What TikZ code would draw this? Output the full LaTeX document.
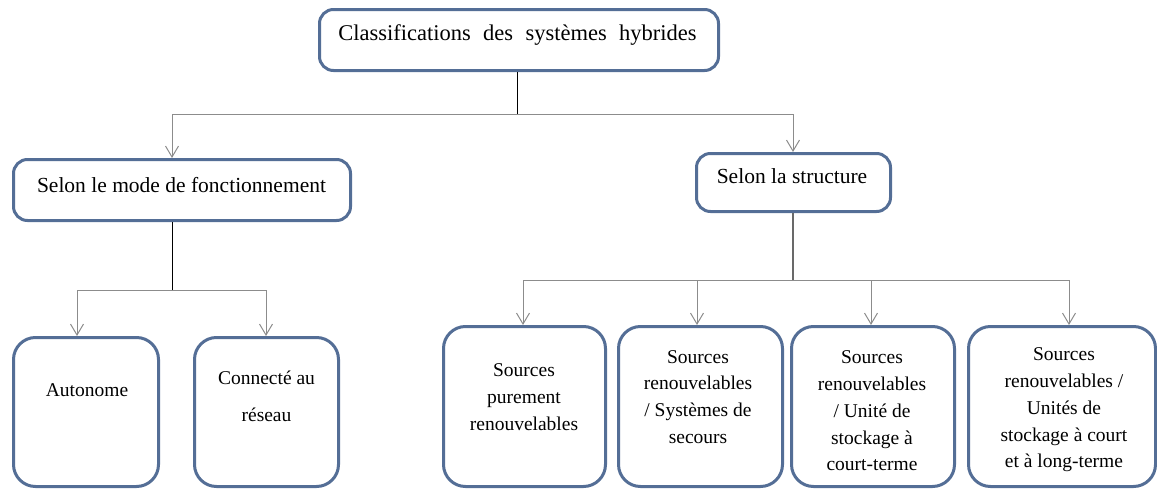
\documentclass[tikz,border=0pt]{standalone}
\usepackage{fontspec}
\setmainfont{Liberation Serif}
\usetikzlibrary{arrows.meta,calc}
\definecolor{boxline}{RGB}{84,110,150}
\definecolor{linkgray}{RGB}{140,140,140}
\definecolor{stemgray}{RGB}{105,105,105}
\begin{document}
\begin{tikzpicture}[x=1pt,y=-1pt,
  box/.style={draw=boxline, line width=3pt, rounded corners=14pt, fill=white, inner sep=0pt},
  leafbox/.style={box, rounded corners=22pt, minimum height=160pt},
  label/.style={align=center, inner sep=0pt, text=black},
  headfont/.style={font=\fontsize{22.5}{27}\selectfont},
  midfont/.style={font=\fontsize{21.5}{26}\selectfont},
  leaffont/.style={font=\fontsize{19.5}{26.8}\selectfont},
  link/.style={draw=linkgray, line width=1pt},
  arrowlink/.style={link, -{Straight Barb[length=11pt,width=13pt,line width=1pt]}},
  stem/.style={draw=black, line width=1pt}]
\useasboundingbox (0,0) rectangle (1157,490);

% boxes
\node[box, minimum width=399pt, minimum height=61pt] (top) at (519,40) {};
\node[box, minimum width=337pt, minimum height=61pt] (mode) at (182,190) {};
\node[box, minimum width=194pt, minimum height=58pt] (struct) at (793.5,182.5) {};
\node[leafbox, minimum width=145pt, minimum height=149pt] (auto) at (86,412) {};
\node[leafbox, minimum width=144pt, minimum height=149pt] (grid) at (266.5,412) {};
\node[leafbox, minimum width=162pt] (s1) at (524.5,406.5) {};
\node[leafbox, minimum width=164pt] (s2) at (700.5,406.5) {};
\node[leafbox, minimum width=163pt] (s3) at (873,406.5) {};
\node[leafbox, minimum width=187pt] (s4) at (1062,406.5) {};

% texts
\node[label, headfont] (ttop) at (517.5,35) {Classifications\hspace{0.3em} des\hspace{0.3em} systèmes\hspace{0.3em} hybrides};
\node[label, midfont] (tmode) at (181.5,185) {Selon le mode de fonctionnement};
\node[label, midfont] (tstruct) at (792,176) {Selon la structure};
\node[label, leaffont] (tauto) at (87,390) {Autonome};
\node[label, font=\fontsize{19.5}{37}\selectfont] (tgrid) at (266.5,396.5) {Connecté au\\réseau};
\node[label, leaffont] (ts1) at (524,397) {Sources\\purement\\renouvelables};
\node[label, leaffont] (ts2) at (698,397) {Sources\\renouvelables\\/ Systèmes de\\secours};
\node[label, leaffont] (ts3) at (872,411) {Sources\\renouvelables\\/ Unité de\\stockage à\\court-terme};
\node[label, leaffont] (ts4) at (1064,410) {Sources\\renouvelables /\\Unités de\\stockage à court\\et à long-terme};

% junction points
\coordinate (hubTop) at (517,114);
\coordinate (jMode) at (172,114);
\coordinate (jStruct) at (793,114);
\coordinate (hubMode) at (172,290);
\coordinate (jAuto) at (77,290);
\coordinate (jGrid) at (266,290);
\coordinate (hubStruct) at (793,280);
\coordinate (j1) at (523,280);
\coordinate (j2) at (697,280);
\coordinate (j3) at (871,280);
\coordinate (j4) at (1069,280);

% first level
\draw[stem] (hubTop |- top.south) -- (hubTop);
\draw[link] (jMode) -- (jStruct);
\draw[arrowlink] (jMode) -- (jMode |- mode.north);
\draw[arrowlink] (jStruct) -- (jStruct |- struct.north);

% operating mode branch
\draw[stem] (hubMode |- mode.south) -- (hubMode);
\draw[link] (jAuto) -- (jGrid);
\draw[arrowlink] (jAuto) -- (jAuto |- auto.north);
\draw[arrowlink] (jGrid) -- (jGrid |- grid.north);

% structure branch
\draw[draw=stemgray, line width=1.5pt] (hubStruct |- struct.south) -- (hubStruct);
\draw[link] (j1) -- (j4);
\draw[arrowlink] (j1) -- (j1 |- s1.north);
\draw[arrowlink] (j2) -- (j2 |- s2.north);
\draw[arrowlink] (j3) -- (j3 |- s3.north);
\draw[arrowlink] (j4) -- (j4 |- s4.north);
\end{tikzpicture}
\end{document}
